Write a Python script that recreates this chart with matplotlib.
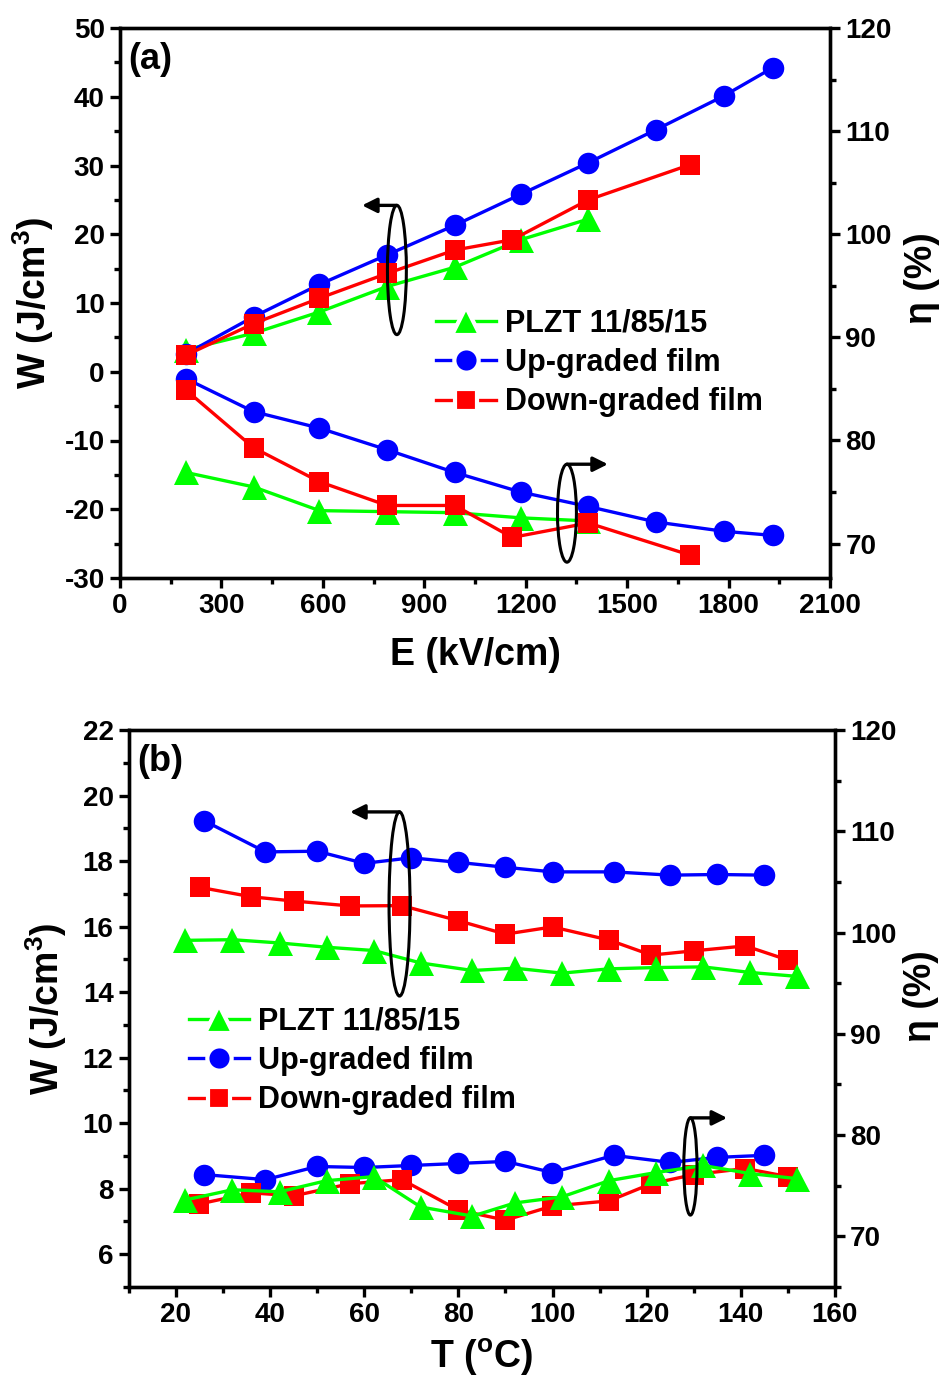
import matplotlib
matplotlib.use("Agg")
import matplotlib.pyplot as plt
from matplotlib.patches import Ellipse
from matplotlib.lines import Line2D
from matplotlib.ticker import MultipleLocator

# ---------------- data: panel (a) ----------------
E_plzt = [195, 395, 590, 790, 990, 1185, 1385]
W_plzt = [3.2, 5.6, 8.7, 12.4, 15.2, 19.2, 22.2]
eta_plzt = [76.9, 75.5, 73.2, 73.1, 73.0, 72.5, 72.2]

E_up = [195, 395, 590, 790, 990, 1185, 1385, 1585, 1785, 1930]
W_up = [2.6, 8.0, 12.7, 17.0, 21.3, 25.8, 30.4, 35.2, 40.1, 44.2]
eta_up = [86.0, 82.8, 81.2, 79.1, 76.9, 75.0, 73.6, 72.1, 71.2, 70.8]

E_down = [195, 395, 590, 790, 990, 1160, 1385, 1685]
W_down = [2.4, 7.0, 10.7, 14.3, 17.7, 19.2, 25.0, 30.1]
eta_down = [84.9, 79.3, 76.0, 73.7, 73.7, 70.6, 72.0, 68.9]

# ---------------- data: panel (b) ----------------
T_plzt = [22, 32, 42, 52, 62, 72, 83, 92, 102, 112, 122, 132, 142, 152]
WT_plzt = [15.58, 15.60, 15.50, 15.37, 15.27, 14.89, 14.66, 14.73, 14.58, 14.71, 14.75, 14.77, 14.60, 14.48]
etaT_plzt = [73.6, 74.6, 74.4, 75.5, 75.9, 72.9, 72.0, 73.3, 73.9, 75.5, 76.3, 77.0, 76.2, 75.7]

T_up = [26, 39, 50, 60, 70, 80, 90, 100, 113, 125, 135, 145]
WT_up = [19.23, 18.28, 18.30, 17.93, 18.10, 17.96, 17.81, 17.67, 17.67, 17.57, 17.59, 17.57]
etaT_up = [76.1, 75.6, 76.9, 76.8, 77.0, 77.2, 77.4, 76.3, 78.0, 77.3, 77.8, 78.0]

T_down = [25, 36, 45, 57, 68, 80, 90, 100, 112, 121, 130, 141, 150]
WT_down = [17.20, 16.91, 16.78, 16.63, 16.64, 16.18, 15.77, 15.99, 15.59, 15.13, 15.26, 15.41, 14.98]
etaT_down = [73.2, 74.3, 74.0, 75.2, 75.6, 72.6, 71.6, 73.0, 73.5, 75.2, 76.1, 76.7, 75.9]

labels = ["PLZT 11/85/15", "Up-graded film", "Down-graded film"]
colors = ["#00FF00", "#0000FF", "#FF0000"]
markers = ["^", "o", "s"]
msizes = [18, 15.5, 14]

FONT = ["Liberation Sans Narrow", "Liberation Sans", "DejaVu Sans"]
plt.rcParams["font.family"] = FONT
plt.rcParams["font.weight"] = "bold"
plt.rcParams["axes.labelweight"] = "bold"
plt.rcParams["axes.unicode_minus"] = False
plt.rcParams["mathtext.fontset"] = "custom"
plt.rcParams["mathtext.rm"] = "Liberation Sans:bold"
plt.rcParams["mathtext.it"] = "Liberation Sans:bold"
plt.rcParams["mathtext.bf"] = "Liberation Sans:bold"
plt.rcParams["axes.linewidth"] = 2.4

W, H = 949, 1382
fig = plt.figure(figsize=(W / 100, H / 100), dpi=100)

TICK_FS = 20
LAB_FS = 27
LEG_FS = 22


def style_axes(ax, ax2):
    for a in (ax, ax2):
        a.tick_params(which="major", direction="out", length=7, width=2.4,
                      labelsize=TICK_FS, pad=4)
        a.tick_params(which="minor", direction="out", length=4.5, width=2.4)
        for s in a.spines.values():
            s.set_linewidth(2.4)
    ax.tick_params(axis="x", which="both", top=False)
    ax.tick_params(axis="y", which="both", right=False)
    ax2.tick_params(axis="y", which="both", left=False, right=True)


def legend_handles():
    hs = []
    for c, m, ms in zip(colors, markers, msizes):
        hs.append(Line2D([], [], color=c, lw=2.4, marker=m, markersize=ms + 2,
                         markerfacecolor=c, markeredgecolor="white", markeredgewidth=3))
    return hs


# ================= panel (a) =================
ax = fig.add_axes([120 / W, 1 - 578 / H, 710 / W, 550 / H])
ax2 = ax.twinx()
for E, Wv, c, m, ms, z in zip([E_plzt, E_up, E_down], [W_plzt, W_up, W_down],
                              colors, markers, msizes, [2, 3, 4]):
    ax.plot(E, Wv, color=c, lw=2.4, marker=m, markersize=ms, markeredgewidth=0, zorder=z)
for E, ev, c, m, ms, z in zip([E_plzt, E_up, E_down], [eta_plzt, eta_up, eta_down],
                              colors, markers, msizes, [2, 3, 4]):
    ax2.plot(E, ev, color=c, lw=2.4, marker=m, markersize=ms, markeredgewidth=0, zorder=z)

ax.set_xlim(0, 2100)
ax.set_ylim(-30, 50)
ax2.set_ylim(120 - 80 * 2 / 3, 120)
ax.xaxis.set_major_locator(MultipleLocator(300))
ax.xaxis.set_minor_locator(MultipleLocator(150))
ax.yaxis.set_major_locator(MultipleLocator(10))
ax.yaxis.set_minor_locator(MultipleLocator(5))
ax2.yaxis.set_major_locator(MultipleLocator(10))
ax2.yaxis.set_minor_locator(MultipleLocator(5))
ax2.set_yticks([70, 80, 90, 100, 110, 120])
style_axes(ax, ax2)
ax.set_xlabel("E (kV/cm)", fontsize=LAB_FS, labelpad=13)
ax.set_ylabel("W (J/cm$^{3}$)", fontsize=LAB_FS, labelpad=6)
ax2.set_ylabel("η (%)", fontsize=LAB_FS, rotation=90)
ax2.yaxis.set_label_coords(1.104, 0.545)
ax.text(0.012, 0.975, "(a)", transform=ax.transAxes, fontsize=26,
        va="top", ha="left")

# annotations (a)
ax2.add_patch(Ellipse((819, 14.8), 56, 18.8, transform=ax.transData, fill=False,
                      lw=2.2, ec="black", zorder=6))
ax2.annotate("", xy=(716, 24.2), xytext=(819, 24.2), xycoords=ax.transData,
             textcoords=ax.transData,
             arrowprops=dict(arrowstyle="-|>", lw=2.4, color="black",
                             mutation_scale=22, shrinkA=0, shrinkB=0), zorder=6)
ax2.add_patch(Ellipse((1322, 72.95), 56, 9.5, fill=False, lw=2.2, ec="black", zorder=6))
ax2.annotate("", xy=(1443, 77.7), xytext=(1322, 77.7),
             arrowprops=dict(arrowstyle="-|>", lw=2.4, color="black",
                             mutation_scale=22, shrinkA=0, shrinkB=0), zorder=6)

ax2.legend(legend_handles(), labels, loc="upper left",
           bbox_to_anchor=(436 / W, 1 - 309 / H), bbox_transform=fig.transFigure,
           frameon=False, fontsize=LEG_FS, handlelength=1.95, handletextpad=0.3,
           labelspacing=0.3, borderpad=0, borderaxespad=0, numpoints=1)

# ================= panel (b) =================
bx = fig.add_axes([128.9 / W, 1 - 1287 / H, 706 / W, 557 / H])
bx2 = bx.twinx()
for T, Wv, c, m, ms, z in zip([T_plzt, T_up, T_down], [WT_plzt, WT_up, WT_down],
                              colors, markers, msizes, [4, 2, 3]):
    bx.plot(T, Wv, color=c, lw=2.4, marker=m, markersize=ms, markeredgewidth=0, zorder=z)
for T, ev, c, m, ms, z in zip([T_plzt, T_up, T_down], [etaT_plzt, etaT_up, etaT_down],
                              colors, markers, msizes, [4, 2, 3]):
    bx2.plot(T, ev, color=c, lw=2.4, marker=m, markersize=ms, markeredgewidth=0, zorder=z)

bx.set_xlim(10, 160)
bx.set_ylim(5, 22)
bx2.set_ylim(65, 120)
bx.xaxis.set_major_locator(MultipleLocator(20))
bx.xaxis.set_minor_locator(MultipleLocator(10))
bx.yaxis.set_major_locator(MultipleLocator(2))
bx.yaxis.set_minor_locator(MultipleLocator(1))
bx.set_yticks([6, 8, 10, 12, 14, 16, 18, 20, 22])
bx2.yaxis.set_minor_locator(MultipleLocator(5))
bx2.set_yticks([70, 80, 90, 100, 110, 120])
bx.set_xticks([20, 40, 60, 80, 100, 120, 140, 160])
style_axes(bx, bx2)
bx.set_xlabel("T ($^{o}$C)", fontsize=LAB_FS, labelpad=6)
bx.set_ylabel("W (J/cm$^{3}$)", fontsize=LAB_FS, labelpad=10)
bx2.set_ylabel("η (%)", fontsize=LAB_FS, rotation=90)
bx2.yaxis.set_label_coords(1.097, 0.522)
bx.text(0.012, 0.975, "(b)", transform=bx.transAxes, fontsize=26,
        va="top", ha="left")

bx2.add_patch(Ellipse((67.5, 16.69), 4.46, 5.62, transform=bx.transData, fill=False,
                      lw=2.2, ec="black", zorder=6))
bx2.annotate("", xy=(57.0, 19.5), xytext=(67.5, 19.5), xycoords=bx.transData,
             textcoords=bx.transData,
             arrowprops=dict(arrowstyle="-|>", lw=2.4, color="black",
                             mutation_scale=22, shrinkA=0, shrinkB=0), zorder=6)
bx2.add_patch(Ellipse((129.3, 76.9), 2.8, 9.6, fill=False, lw=2.2, ec="black", zorder=6))
bx2.annotate("", xy=(137.1, 81.7), xytext=(129.3, 81.7),
             arrowprops=dict(arrowstyle="-|>", lw=2.4, color="black",
                             mutation_scale=22, shrinkA=0, shrinkB=0), zorder=6)

bx2.legend(legend_handles(), labels, loc="upper left",
           bbox_to_anchor=(189 / W, 1 - 1007 / H), bbox_transform=fig.transFigure,
           frameon=False, fontsize=LEG_FS, handlelength=1.95, handletextpad=0.3,
           labelspacing=0.3, borderpad=0, borderaxespad=0, numpoints=1)

fig.savefig("out.png", dpi=100)
